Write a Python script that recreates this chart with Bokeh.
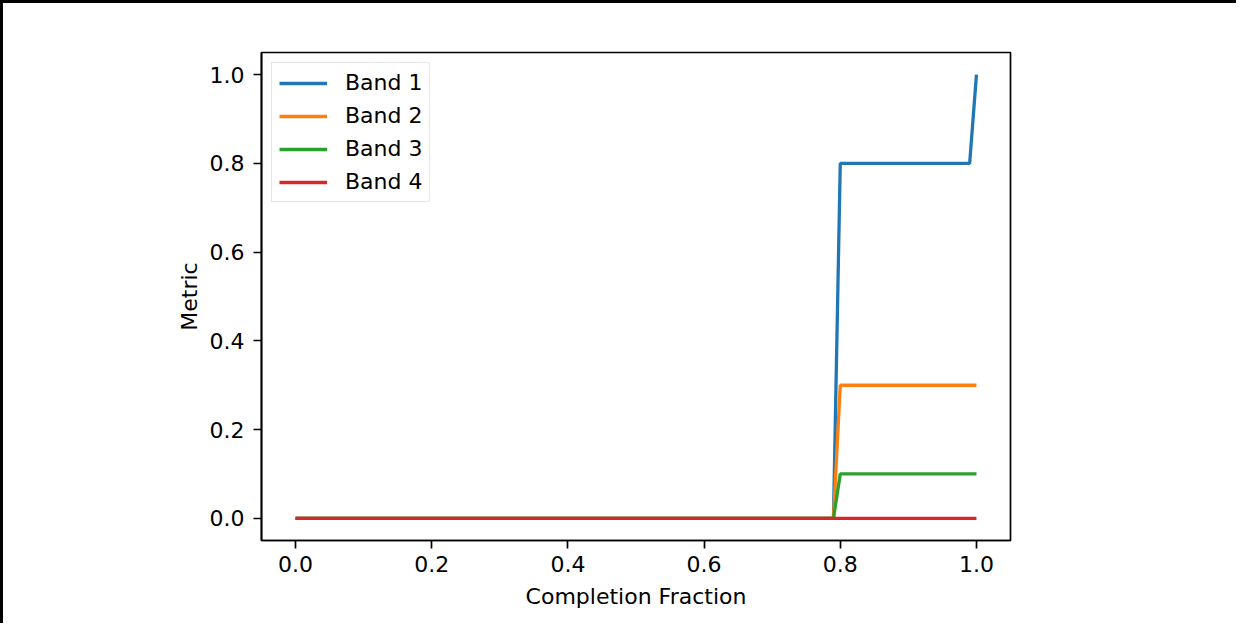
from bokeh.plotting import figure
from bokeh.models import Range1d, FixedTicker, Legend, LegendItem
from bokeh.embed import file_html
from bokeh.resources import INLINE

# Data
completion = [0.0, 0.79, 0.80, 0.99, 1.0]
band1 = [0.0, 0.0, 0.8, 0.8, 1.0]
band2 = [0.0, 0.0, 0.3, 0.3, 0.3]
band3 = [0.0, 0.0, 0.1, 0.1, 0.1]
band4 = [0.0, 0.0, 0.0, 0.0, 0.0]
series_names = ["Band 1", "Band 2", "Band 3", "Band 4"]
colors = ["#1f77b4", "#ff7f0e", "#2ca02c", "#d62728"]
x_ticks = [0.0, 0.2, 0.4, 0.6, 0.8, 1.0]
y_ticks = [0.0, 0.2, 0.4, 0.6, 0.8, 1.0]

FONT = "DejaVu Sans"
FS = "22px"

p = figure(width=1236, height=623, output_backend="svg", toolbar_location=None,
           x_range=Range1d(-0.05, 1.05), y_range=Range1d(-0.05, 1.05),
           min_border_left=258, min_border_right=229, min_border_top=49, min_border_bottom=86,
           styles={"border-left": "3px solid black", "border-top": "3px solid black"})

p.xgrid.visible = False
p.ygrid.visible = False
p.outline_line_color = "black"
p.outline_line_width = 1.7
p.background_fill_color = "white"
p.border_fill_color = "white"

items = []
for name, ys, c in zip(series_names, [band1, band2, band3, band4], colors):
    r = p.line(completion, ys, line_color=c, line_width=3.3)
    items.append(LegendItem(label=name, renderers=[r]))

for ax in (p.xaxis[0], p.yaxis[0]):
    ax.axis_line_color = "black"
    ax.axis_line_width = 1.7
    ax.major_tick_line_width = 1.7
    ax.major_tick_out = 8
    ax.major_tick_in = 0
    ax.minor_tick_line_color = None
    ax.major_label_text_font = FONT
    ax.major_label_text_font_size = FS
    ax.major_label_text_color = "black"
    ax.axis_label_text_font = FONT
    ax.axis_label_text_font_size = FS
    ax.axis_label_text_font_style = "normal"
    ax.axis_label_text_color = "black"

p.xaxis[0].ticker = FixedTicker(ticks=x_ticks)
p.yaxis[0].ticker = FixedTicker(ticks=y_ticks)
p.xaxis[0].major_label_overrides = {t: f"{t:.1f}" for t in x_ticks}
p.yaxis[0].major_label_overrides = {t: f"{t:.1f}" for t in y_ticks}
p.xaxis[0].axis_label = "Completion Fraction"
p.yaxis[0].axis_label = "Metric"
p.xaxis[0].major_label_standoff = 7
p.yaxis[0].major_label_standoff = 9
p.xaxis[0].axis_label_standoff = 9
p.yaxis[0].axis_label_standoff = 5

legend = Legend(items=items, location="top_left")
legend.margin = 10
legend.padding = 7
legend.spacing = 8
legend.glyph_width = 48
legend.glyph_height = 22
legend.label_height = 22
legend.label_standoff = 18
legend.label_text_font = FONT
legend.label_text_font_size = FS
legend.label_text_color = "black"
legend.border_line_color = "#d0d0d0"
legend.border_line_width = 1.5
legend.background_fill_color = "white"
legend.background_fill_alpha = 0.8
p.add_layout(legend)

open("out.html", "w").write(file_html(p, INLINE))
